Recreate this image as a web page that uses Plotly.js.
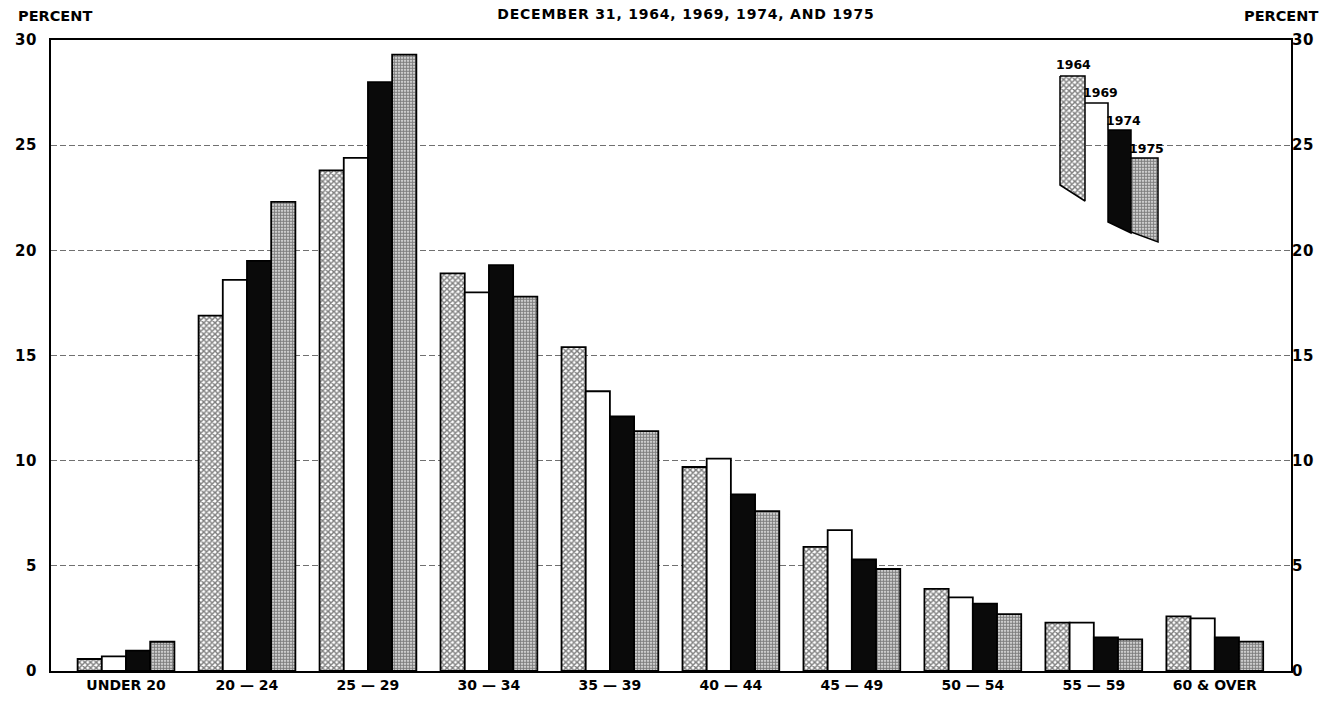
<!DOCTYPE html>
<html>
<head>
<meta charset="utf-8">
<script src="https://cdn.plot.ly/plotly-3.0.1.min.js"></script>
<style>
html,body{margin:0;padding:0;background:#fff;}
#chart{width:1335px;height:702px;}
#chart .gtitle{letter-spacing:0.8px;}
#chart .ytick text, #chart .y2tick text{letter-spacing:0.6px;}
</style>
</head>
<body>
<div id="chart"></div>
<script>
// ---- data ----
const categories = ["UNDER 20", "20 — 24", "25 — 29", "30 — 34", "35 — 39", "40 — 44", "45 — 49", "50 — 54", "55 — 59", "60 & OVER"];
const years = ["1964", "1969", "1974", "1975"];
const pct1964 = [0.57, 16.9, 23.8, 18.9, 15.4, 9.7, 5.9, 3.9, 2.3, 2.6];
const pct1969 = [0.70, 18.6, 24.4, 18.0, 13.3, 10.1, 6.7, 3.5, 2.3, 2.5];
const pct1974 = [0.97, 19.5, 28.0, 19.3, 12.1, 8.4, 5.3, 3.2, 1.6, 1.6];
const pct1975 = [1.39, 22.3, 29.3, 17.8, 11.4, 7.6, 4.85, 2.7, 1.5, 1.4];
const yTicks = [0, 5, 10, 15, 20, 25, 30];
const titleText = "DECEMBER 31, 1964, 1969, 1974, AND 1975";
const axisLabel = "PERCENT";

// ---- styles ----
const FONT = "DejaVu Sans, Liberation Sans, sans-serif";
const outline = {color: "#000", width: 1.8};
const styles = [
  {color: "#fff", pattern: {shape: "x", size: 4, solidity: 0.6, fgcolor: "#000", bgcolor: "#fff", fillmode: "overlay"}},
  {color: "#fff"},
  {color: "#0a0a0a"},
  {color: "#fff", pattern: {shape: ".", size: 3, solidity: 0.7, fgcolor: "#000", bgcolor: "#fff", fillmode: "overlay"}}
];
const series = [pct1964, pct1969, pct1974, pct1975];

const traces = series.map((vals, i) => ({
  type: "bar",
  name: years[i],
  x: categories,
  y: vals,
  marker: Object.assign({line: outline}, styles[i]),
  showlegend: false,
  hoverinfo: "x+y+name"
}));

// dummy trace so right-side axis is drawn
traces.push({type: "scatter", mode: "none", x: [categories[0]], y: [null], yaxis: "y2", showlegend: false, hoverinfo: "skip"});

// ---- custom slanted legend (pixel coordinates on hidden overlay axes) ----
const legendSwatches = [
  {xs: [1060, 1085, 1085, 1060, 1060], ys: [76, 76, 201, 185, 76], style: styles[0]},
  {xs: [1108, 1131, 1131, 1108, 1108], ys: [130, 130, 233, 222, 130], style: styles[2]},
  {xs: [1131, 1158, 1158, 1131, 1131], ys: [158, 158, 242, 232, 158], style: styles[3]}
];
legendSwatches.forEach(s => {
  const t = {
    type: "scatter", mode: "lines", x: s.xs, y: s.ys, xaxis: "x2", yaxis: "y3",
    fill: "toself", fillcolor: s.style.color, line: {color: "#000", width: 1.5},
    showlegend: false, hoverinfo: "skip"
  };
  if (s.style.pattern) {
    t.fillpattern = {shape: s.style.pattern.shape, size: s.style.pattern.size, solidity: s.style.pattern.solidity,
                     fgcolor: s.style.pattern.fgcolor, bgcolor: s.style.pattern.bgcolor, fillmode: "overlay"};
  }
  traces.push(t);
});
// 1969 (white) swatch: only its top and right edges are visible
traces.push({type: "scatter", mode: "lines", x: [1085, 1108, 1108], y: [103, 103, 130], xaxis: "x2", yaxis: "y3",
  line: {color: "#000", width: 1.6}, showlegend: false, hoverinfo: "skip"});

const legendLabels = [
  {x: 1073, y: 64}, {x: 1100, y: 92}, {x: 1123, y: 120}, {x: 1146, y: 148}
];
const annotations = legendLabels.map((p, i) => ({
  xref: "x2", yref: "y3", x: p.x, y: p.y, text: years[i], showarrow: false,
  font: {family: FONT, size: 12.5, color: "#000", weight: "bold"}, xanchor: "center", yanchor: "middle"
}));
annotations.push({xref: "paper", yref: "paper", x: -0.028, y: 1.038, xanchor: "left", yanchor: "middle",
  text: axisLabel, showarrow: false, font: {family: FONT, size: 14.5, color: "#000", weight: "bold"}});
annotations.push({xref: "paper", yref: "paper", x: 1.023, y: 1.038, xanchor: "right", yanchor: "middle",
  text: axisLabel, showarrow: false, font: {family: FONT, size: 14.5, color: "#000", weight: "bold"}});

const gridStyle = {showgrid: true, gridcolor: "#707070", gridwidth: 1, griddash: "6px,3px"};

const layout = {
  width: 1335, height: 702,
  margin: {l: 51, r: 44, t: 40, b: 31, pad: 0},
  paper_bgcolor: "#fff", plot_bgcolor: "#fff",
  title: {text: titleText, x: 0.512, xanchor: "center", y: 0.98, yanchor: "middle", xref: "paper",
          font: {family: FONT, size: 14, color: "#000", weight: "bold"}},
  barmode: "group", bargap: 0.2, bargroupgap: 0,
  showlegend: false,
  xaxis: {type: "category", range: [-0.62, 9.63], showline: true, linecolor: "#000", linewidth: 2, mirror: true,
          ticks: "", showgrid: false, zeroline: false, tickfont: {family: FONT, size: 14, color: "#000", weight: "bold"}, fixedrange: true},
  yaxis: Object.assign({range: [0, 30], tickvals: yTicks, showline: true, linecolor: "#000", linewidth: 2, mirror: true,
          ticks: "outside", ticklen: 9, tickcolor: "rgba(0,0,0,0)", zeroline: false,
          tickfont: {family: FONT, size: 15, color: "#000", weight: "bold"}, fixedrange: true}, gridStyle),
  yaxis2: {overlaying: "y", side: "right", anchor: "x", range: [0, 30], tickvals: yTicks, showgrid: false, zeroline: false,
           showline: false, ticks: "", tickfont: {family: FONT, size: 15, color: "#000", weight: "bold"}, fixedrange: true},
  xaxis2: {overlaying: "x", anchor: "y3", range: [51, 1291], visible: false, fixedrange: true},
  yaxis3: {overlaying: "y", anchor: "x2", range: [671, 40], visible: false, fixedrange: true},
  annotations: annotations
};

Plotly.newPlot("chart", traces, layout, {displayModeBar: false, staticPlot: true});
</script>
</body>
</html>
